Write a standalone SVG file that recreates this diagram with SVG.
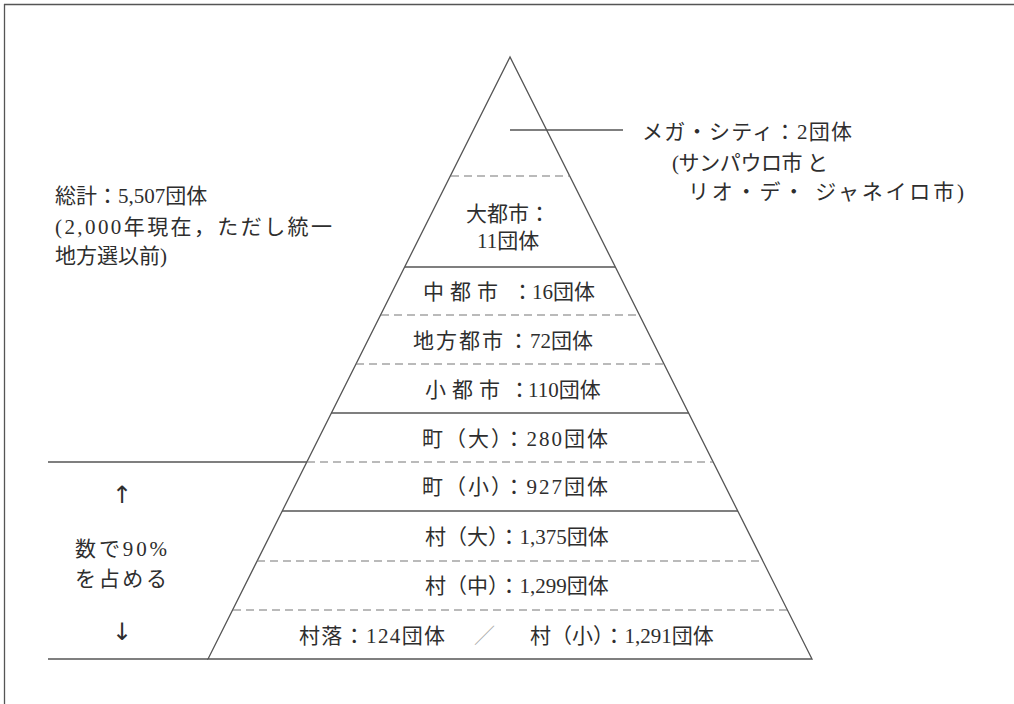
<svg xmlns="http://www.w3.org/2000/svg" width="1014" height="704" viewBox="0 0 1014 704">
<style>
  .ln{stroke:#555;stroke-width:1.3;fill:none}
  .ds{stroke:#777;stroke-width:1.2;stroke-dasharray:8 5;fill:none}
  .t{font-family:"Liberation Serif","Noto Sans CJK JP",serif;font-size:21px;fill:#2e2e2e}
  .ar{font-family:"DejaVu Sans",sans-serif;font-size:24px;fill:#2e2e2e}
  .sl{fill:#aaa}
</style>
<rect width="1014" height="704" fill="#ffffff"/>
<g id="frame">
  <line class="ln" x1="4" y1="4.5" x2="1014" y2="4.5"/>
  <line class="ln" x1="4.5" y1="4" x2="4.5" y2="704"/>
</g>
<g id="pyramid">
  <polygon class="ln" points="510,57 208,659 812,659"/>
</g>
<g id="connectors">
  <line class="ds" x1="451" y1="176" x2="570" y2="176"/>
  <line class="ln" x1="405" y1="267" x2="615" y2="267"/>
  <line class="ds" x1="381" y1="315" x2="639" y2="315"/>
  <line class="ds" x1="356" y1="364" x2="664" y2="364"/>
  <line class="ln" x1="331" y1="413" x2="689" y2="413"/>
  <line class="ln" x1="48" y1="462" x2="307" y2="462"/>
  <line class="ds" x1="307" y1="462" x2="713" y2="462"/>
  <line class="ln" x1="282" y1="511" x2="738" y2="511"/>
  <line class="ds" x1="257" y1="561" x2="763" y2="561"/>
  <line class="ds" x1="233" y1="610" x2="787" y2="610"/>
  <line class="ln" x1="48" y1="659" x2="208" y2="659"/>
  <line class="ln" x1="510" y1="130" x2="623" y2="130"/>
</g>
<g id="megacity">
  <text class="t" x="642" y="139" textLength="210" lengthAdjust="spacing">メガ・シティ：2団体</text>
  <text class="t" x="672" y="170" textLength="156" lengthAdjust="spacing">(サンパウロ市 と</text>
  <text class="t" x="688" y="199" textLength="276" lengthAdjust="spacing">リオ・デ・ ジャネイロ市)</text>
</g>
<g id="total">
  <text class="t" x="55" y="203">総計：5,507団体</text>
  <text class="t" x="55" y="234" textLength="277" lengthAdjust="spacing">(2,000年現在，ただし統一</text>
  <text class="t" x="55" y="263">地方選以前)</text>
</g>
<g id="daitoshi">
  <text class="t" x="466" y="221">大都市：</text>
  <text class="t" x="477" y="248">11団体</text>
</g>
<g id="chutoshi"><text class="t" x="423" y="299"><tspan letter-spacing="6">中都市</tspan><tspan x="512">：</tspan><tspan x="532">16団体</tspan></text></g>
<g id="chihotoshi"><text class="t" x="413" y="348"><tspan letter-spacing="2">地方都市</tspan><tspan x="508">：</tspan><tspan x="530">72団体</tspan></text></g>
<g id="shotoshi"><text class="t" x="425" y="397"><tspan letter-spacing="6">小都市</tspan><tspan x="509">：</tspan><tspan x="528">110団体</tspan></text></g>
<g id="machi-dai"><text class="t" x="422" y="446" textLength="186" lengthAdjust="spacing">町（大）：280団体</text></g>
<g id="machi-sho"><text class="t" x="422" y="494" textLength="186" lengthAdjust="spacing">町（小）：927団体</text></g>
<g id="mura-dai"><text class="t" x="425" y="544">村（大）：1,375団体</text></g>
<g id="mura-chu"><text class="t" x="425" y="593">村（中）：1,299団体</text></g>
<g id="mura-sho">
  <text class="t" x="299" y="643" textLength="146" lengthAdjust="spacing">村落：124団体</text>
  <text class="t sl" x="474" y="643">／</text>
  <text class="t" x="530" y="643">村（小）：1,291団体</text>
</g>
<g id="ninety">
  <text class="ar" x="122" y="503" text-anchor="middle">↑</text>
  <text class="t" x="75" y="556" textLength="92" lengthAdjust="spacing">数で90%</text>
  <text class="t" x="75" y="586" textLength="92" lengthAdjust="spacing">を占める</text>
  <text class="ar" x="122" y="640" text-anchor="middle">↓</text>
</g>
</svg>
